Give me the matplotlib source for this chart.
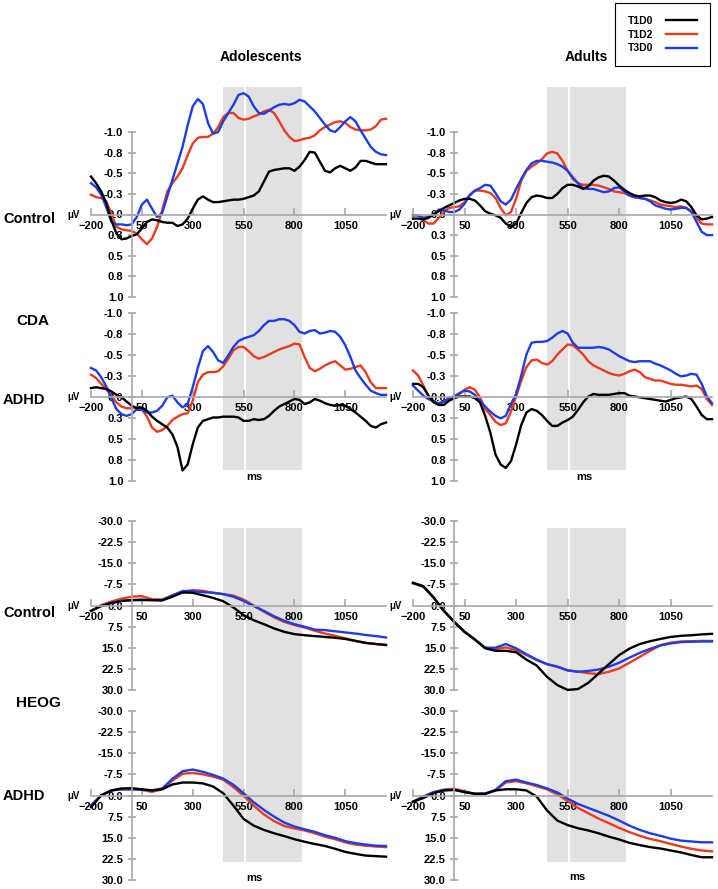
import matplotlib.pyplot as plt
import numpy as np

plt.rcParams['font.family'] = ['Liberation Sans', 'DejaVu Sans']
plt.rcParams['font.weight'] = 'bold'

# sample times (ms)
CDA_T = np.arange(-200, 1251, 25)
HEOG_T = np.arange(-200, 1251, 50)

# ---- CDA, adolescents, control (uV, negative up)
ADO_CTRL_CDA_T1D0 = [-0.46, -0.38, -0.28, -0.14, 0.07, 0.23, 0.30, 0.29, 0.26, 0.24,
                     0.17, 0.09, 0.06, 0.07, 0.09, 0.10, 0.10, 0.14, 0.12, 0.05,
                     -0.07, -0.18, -0.22, -0.18, -0.15, -0.15, -0.16, -0.17, -0.18, -0.18,
                     -0.19, -0.21, -0.23, -0.28, -0.40, -0.52, -0.54, -0.55, -0.56, -0.56,
                     -0.53, -0.58, -0.66, -0.76, -0.75, -0.64, -0.53, -0.51, -0.56, -0.59,
                     -0.56, -0.53, -0.57, -0.65, -0.65, -0.63, -0.61, -0.61, -0.61]
ADO_CTRL_CDA_T1D2 = [-0.24, -0.21, -0.20, -0.16, -0.01, 0.15, 0.18, 0.19, 0.20, 0.23,
                     0.30, 0.36, 0.29, 0.15, -0.05, -0.28, -0.38, -0.46, -0.56, -0.72,
                     -0.86, -0.93, -0.94, -0.94, -0.98, -1.06, -1.18, -1.23, -1.23, -1.17,
                     -1.15, -1.16, -1.19, -1.21, -1.25, -1.27, -1.23, -1.13, -1.02, -0.94,
                     -0.89, -0.90, -0.92, -0.93, -0.96, -1.02, -1.06, -1.09, -1.12, -1.13,
                     -1.11, -1.06, -1.03, -1.02, -1.02, -1.03, -1.07, -1.15, -1.16]
ADO_CTRL_CDA_T3D0 = [-0.38, -0.33, -0.24, -0.09, 0.09, 0.12, 0.12, 0.13, 0.12, 0.03,
                     -0.12, -0.18, -0.07, 0.03, -0.02, -0.22, -0.42, -0.62, -0.82, -1.08,
                     -1.31, -1.40, -1.34, -1.11, -0.98, -1.00, -1.13, -1.23, -1.33, -1.45,
                     -1.47, -1.43, -1.31, -1.23, -1.22, -1.26, -1.30, -1.33, -1.34, -1.33,
                     -1.35, -1.39, -1.37, -1.31, -1.25, -1.17, -1.09, -1.02, -1.00, -1.06,
                     -1.13, -1.18, -1.13, -1.02, -0.92, -0.82, -0.76, -0.73, -0.72]

# ---- CDA, adults, control
ADU_CTRL_CDA_T1D0 = [0.05, 0.05, 0.06, 0.04, 0.00, -0.04, -0.08, -0.11, -0.14, -0.17,
                     -0.19, -0.19, -0.17, -0.11, -0.04, -0.01, 0.01, 0.04, 0.11, 0.15,
                     0.11, -0.02, -0.14, -0.21, -0.23, -0.22, -0.20, -0.20, -0.25, -0.32,
                     -0.36, -0.36, -0.34, -0.31, -0.34, -0.41, -0.45, -0.47, -0.46, -0.41,
                     -0.35, -0.30, -0.26, -0.23, -0.22, -0.23, -0.23, -0.21, -0.17, -0.15,
                     -0.14, -0.15, -0.18, -0.16, -0.09, 0.01, 0.06, 0.05, 0.03]
ADU_CTRL_CDA_T1D2 = [0.01, 0.01, 0.07, 0.11, 0.11, 0.04, -0.03, -0.08, -0.09, -0.10,
                     -0.15, -0.24, -0.29, -0.29, -0.28, -0.26, -0.20, -0.08, 0.01, -0.03,
                     -0.19, -0.41, -0.53, -0.58, -0.62, -0.67, -0.74, -0.76, -0.74, -0.65,
                     -0.53, -0.43, -0.38, -0.36, -0.36, -0.36, -0.35, -0.33, -0.31, -0.28,
                     -0.27, -0.26, -0.23, -0.21, -0.20, -0.19, -0.17, -0.15, -0.12, -0.11,
                     -0.10, -0.09, -0.10, -0.08, -0.04, 0.04, 0.11, 0.12, 0.12]
ADU_CTRL_CDA_T3D0 = [0.01, 0.01, 0.04, 0.03, 0.00, -0.06, -0.05, -0.03, -0.03, -0.06,
                     -0.13, -0.23, -0.29, -0.32, -0.36, -0.35, -0.26, -0.16, -0.12, -0.18,
                     -0.31, -0.43, -0.54, -0.62, -0.65, -0.65, -0.64, -0.63, -0.61, -0.58,
                     -0.53, -0.45, -0.38, -0.32, -0.31, -0.31, -0.29, -0.27, -0.28, -0.32,
                     -0.33, -0.28, -0.23, -0.21, -0.20, -0.19, -0.16, -0.11, -0.09, -0.07,
                     -0.06, -0.07, -0.08, -0.08, -0.03, 0.09, 0.21, 0.25, 0.25]

# ---- CDA, adolescents, ADHD
ADO_ADHD_CDA_T1D0 = [-0.10, -0.11, -0.10, -0.09, -0.06, -0.02, 0.01, 0.06, 0.11, 0.14,
                     0.13, 0.17, 0.24, 0.29, 0.33, 0.37, 0.45, 0.60, 0.88, 0.81,
                     0.57, 0.37, 0.29, 0.27, 0.25, 0.25, 0.24, 0.24, 0.24, 0.25,
                     0.29, 0.29, 0.27, 0.28, 0.27, 0.23, 0.17, 0.12, 0.09, 0.06,
                     0.03, 0.04, 0.09, 0.07, 0.03, 0.05, 0.08, 0.10, 0.11, 0.10,
                     0.11, 0.15, 0.19, 0.24, 0.29, 0.35, 0.37, 0.33, 0.31]
ADO_ADHD_CDA_T1D2 = [-0.26, -0.22, -0.15, -0.09, -0.01, 0.07, 0.12, 0.14, 0.14, 0.13,
                     0.15, 0.24, 0.37, 0.42, 0.40, 0.35, 0.28, 0.24, 0.21, 0.20,
                     0.05, -0.17, -0.26, -0.29, -0.29, -0.30, -0.36, -0.45, -0.55, -0.59,
                     -0.59, -0.54, -0.48, -0.45, -0.47, -0.50, -0.53, -0.56, -0.58, -0.60,
                     -0.63, -0.62, -0.47, -0.34, -0.30, -0.33, -0.37, -0.40, -0.42, -0.37,
                     -0.32, -0.33, -0.35, -0.37, -0.29, -0.17, -0.10, -0.10, -0.10]
ADO_ADHD_CDA_T3D0 = [-0.34, -0.31, -0.23, -0.12, 0.02, 0.15, 0.21, 0.23, 0.21, 0.15,
                     0.16, 0.19, 0.19, 0.17, 0.11, 0.01, -0.01, 0.07, 0.13, 0.09,
                     -0.11, -0.34, -0.54, -0.60, -0.53, -0.43, -0.40, -0.49, -0.59, -0.66,
                     -0.69, -0.71, -0.73, -0.78, -0.85, -0.90, -0.90, -0.92, -0.92, -0.90,
                     -0.85, -0.77, -0.75, -0.78, -0.79, -0.75, -0.76, -0.78, -0.77, -0.71,
                     -0.61, -0.47, -0.31, -0.22, -0.14, -0.07, -0.04, -0.02, -0.02]

# ---- CDA, adults, ADHD
ADU_ADHD_CDA_T1D0 = [-0.15, -0.15, -0.11, -0.01, 0.07, 0.10, 0.10, 0.05, 0.02, 0.00,
                     0.00, 0.00, 0.02, 0.07, 0.23, 0.43, 0.69, 0.81, 0.85, 0.77,
                     0.57, 0.34, 0.19, 0.15, 0.17, 0.22, 0.29, 0.35, 0.35, 0.31,
                     0.28, 0.24, 0.16, 0.07, 0.00, -0.03, -0.02, -0.02, -0.02, -0.03,
                     -0.04, -0.04, -0.01, 0.00, 0.01, 0.02, 0.03, 0.04, 0.05, 0.06,
                     0.04, 0.02, 0.01, 0.00, 0.03, 0.12, 0.22, 0.27, 0.27]
ADU_ADHD_CDA_T1D2 = [-0.31, -0.25, -0.13, 0.00, 0.06, 0.09, 0.06, 0.02, 0.00, -0.03,
                     -0.08, -0.11, -0.08, 0.01, 0.15, 0.22, 0.30, 0.34, 0.32, 0.18,
                     0.00, -0.19, -0.35, -0.43, -0.44, -0.40, -0.38, -0.42, -0.50, -0.56,
                     -0.62, -0.61, -0.56, -0.50, -0.42, -0.37, -0.34, -0.31, -0.28, -0.26,
                     -0.25, -0.27, -0.30, -0.32, -0.29, -0.23, -0.21, -0.19, -0.19, -0.17,
                     -0.15, -0.14, -0.14, -0.13, -0.12, -0.13, -0.09, 0.03, 0.10]
ADU_ADHD_CDA_T3D0 = [-0.13, -0.07, -0.01, 0.03, 0.06, 0.08, 0.06, 0.02, 0.00, -0.04,
                     -0.07, -0.06, -0.02, 0.05, 0.12, 0.18, 0.23, 0.26, 0.23, 0.09,
                     -0.03, -0.25, -0.50, -0.64, -0.65, -0.65, -0.66, -0.70, -0.75, -0.78,
                     -0.75, -0.64, -0.58, -0.58, -0.58, -0.58, -0.59, -0.58, -0.56, -0.52,
                     -0.48, -0.45, -0.42, -0.41, -0.42, -0.42, -0.42, -0.39, -0.37, -0.34,
                     -0.31, -0.27, -0.24, -0.25, -0.27, -0.26, -0.15, 0.00, 0.08]

# ---- HEOG (uV)
ADO_CTRL_HEOG_T1D0 = [1.9, 0.2, -0.9, -1.6, -1.9, -1.9, -1.9, -1.8, -3.1, -4.6,
                      -4.5, -3.6, -2.7, -1.5, 0.7, 3.4, 5.2, 6.6, 8.1, 9.3,
                      10.1, 10.5, 10.8, 11.1, 11.4, 11.8, 12.5, 13.2, 13.6, 13.9]
ADO_CTRL_HEOG_T1D2 = [1.9, -0.1, -1.4, -2.4, -3.1, -3.3, -2.2, -2.1, -3.6, -4.9,
                      -5.4, -5.2, -4.5, -4.0, -3.5, -2.1, 0.0, 2.2, 4.2, 5.8,
                      6.9, 7.8, 8.9, 9.9, 10.7, 11.6, 12.5, 13.2, 13.6, 14.0]
ADO_CTRL_HEOG_T3D0 = [1.9, 0.2, -0.9, -1.6, -1.9, -2.1, -1.9, -1.9, -3.5, -5.1,
                      -5.1, -4.7, -4.5, -4.0, -3.1, -1.6, 0.2, 1.9, 3.8, 5.4,
                      6.6, 7.5, 8.5, 8.7, 9.1, 9.5, 9.9, 10.4, 10.8, 11.3]

ADU_CTRL_HEOG_T1D0 = [-8.0, -6.8, -2.8, 1.9, 5.8, 9.3, 12.0, 15.1, 16.0, 16.0,
                      16.5, 19.1, 21.2, 25.2, 28.1, 29.8, 29.5, 27.3, 24.0, 20.7,
                      17.5, 15.2, 13.6, 12.6, 11.8, 11.1, 10.7, 10.5, 10.2, 10.0]
ADU_CTRL_HEOG_T1D2 = [-7.8, -6.6, -2.8, 1.9, 5.8, 9.3, 12.0, 14.9, 15.4, 14.8,
                      15.8, 17.5, 19.3, 20.7, 21.6, 22.9, 23.3, 23.9, 24.2, 23.4,
                      22.2, 20.2, 18.1, 16.0, 14.0, 13.1, 12.7, 12.6, 12.5, 12.5]
ADU_CTRL_HEOG_T3D0 = [-8.0, -6.8, -2.8, 1.9, 5.8, 9.3, 12.0, 14.9, 14.9, 13.6,
                      15.1, 17.2, 19.1, 20.7, 21.6, 22.9, 23.4, 23.1, 22.6, 21.6,
                      20.2, 18.4, 16.7, 15.3, 14.1, 13.4, 12.9, 12.8, 12.7, 12.7]

ADO_ADHD_HEOG_T1D0 = [4.1, 0.0, -1.8, -2.5, -2.6, -2.2, -1.8, -2.2, -3.9, -4.6,
                      -4.6, -4.3, -3.2, -0.8, 3.6, 8.3, 10.7, 12.2, 13.4, 14.4,
                      15.5, 16.4, 17.2, 17.9, 18.9, 20.0, 20.7, 21.3, 21.5, 21.7]
ADO_ADHD_HEOG_T1D2 = [3.6, -0.1, -1.8, -2.2, -2.2, -2.0, -1.3, -2.2, -5.3, -7.7,
                      -8.0, -7.5, -6.7, -5.6, -3.0, 0.1, 3.6, 6.7, 9.1, 10.8,
                      11.7, 12.4, 13.4, 14.6, 15.5, 16.6, 17.4, 17.8, 18.1, 18.3]
ADO_ADHD_HEOG_T3D0 = [3.6, -0.1, -1.8, -2.2, -2.2, -2.0, -1.8, -2.5, -5.9, -8.6,
                      -9.2, -8.4, -7.3, -6.0, -3.8, -0.8, 2.4, 5.1, 7.5, 9.6,
                      11.0, 12.0, 12.9, 14.1, 15.0, 16.2, 16.9, 17.4, 17.8, 17.9]

ADU_ADHD_HEOG_T1D0 = [2.2, 0.9, -0.8, -1.8, -2.0, -1.2, -0.6, -0.6, -1.8, -2.2,
                      -2.2, -1.8, 0.4, 5.3, 8.9, 10.5, 11.6, 12.4, 13.4, 14.6,
                      15.6, 16.8, 17.6, 18.3, 18.8, 19.5, 20.2, 21.1, 21.9, 21.9]
ADU_ADHD_HEOG_T1D2 = [2.2, 0.4, -1.2, -2.1, -2.4, -1.5, -0.6, -0.6, -1.8, -4.6,
                      -5.1, -4.3, -3.3, -2.2, -0.4, 2.0, 4.4, 6.3, 8.2, 9.8,
                      11.5, 13.0, 14.3, 15.4, 16.2, 17.2, 18.1, 18.9, 19.5, 19.8]
ADU_ADHD_HEOG_T3D0 = [2.2, 0.4, -1.2, -1.9, -2.0, -1.3, -0.6, -0.7, -2.0, -5.1,
                      -5.6, -4.6, -3.7, -2.5, -1.1, 1.1, 3.0, 4.4, 5.8, 7.2,
                      8.9, 10.7, 12.2, 13.4, 14.3, 15.3, 16.0, 16.3, 16.6, 16.6]

CONDITIONS = ['T1D0', 'T1D2', 'T3D0']
X_TICKS = [-200, 50, 300, 550, 800, 1050]
CDA_TICKS = [-1.0, -0.75, -0.5, -0.25, 0.0, 0.25, 0.5, 0.75, 1.0]
CDA_TICKLABELS = ['-1.0', '-0.8', '-0.5', '-0.3', '0.0', '0.3', '0.5', '0.8', '1.0']
HEOG_TICKS = [-30.0, -22.5, -15.0, -7.5, 0.0, 7.5, 15.0, 22.5, 30.0]
HEOG_TICKLABELS = ['-30.0', '-22.5', '-15.0', '-7.5', '0.0', '7.5', '15.0', '22.5', '30.0']
WINDOW = (450, 835)   # shaded retention window (ms)
WINDOW_MARK = 555

# ---- layout (pixels)
W, H = 718, 889
COLORS = {'T1D0': 'black', 'T1D2': '#ec3a1e', 'T3D0': '#1d3de4'}
AXIS_GRAY = '#a8a8a8'
COL_X = {'left': (91, 386), 'right': (413, 712)}


def px_axes(fig, x0, x1, y_top, y_bot):
    return fig.add_axes([x0 / W, 1 - y_bot / H, (x1 - x0) / W, (y_bot - y_top) / H])


def shade(fig, col, y_top, y_bot):
    ax = px_axes(fig, *COL_X[col], y_top, y_bot)
    ax.set_xlim(-200, 1250)
    ax.axvspan(*WINDOW, color='#e1e1e1', lw=0)
    ax.axvline(WINDOW_MARK, color='white', lw=1.4)
    ax.axis('off')
    ax.set_zorder(-1)


def panel(fig, col, zero, ppu, vlim, ticks, ticklabels, series, times):
    v_top, v_bot = vlim
    x0, x1 = COL_X[col]
    ax = px_axes(fig, x0, x1, zero + v_top * ppu, zero + v_bot * ppu)
    ax.set_xlim(-200, 1250)
    ax.set_ylim(v_bot, v_top)
    ax.patch.set_visible(False)
    lines = {}
    for cond in ['T1D2', 'T3D0', 'T1D0']:
        lines[cond], = ax.plot(times, series[cond], color=COLORS[cond], lw=1.7, clip_on=False)
    for s in ['top', 'right']:
        ax.spines[s].set_visible(False)
    ax.spines['left'].set_position(('data', 0))
    ax.spines['left'].set_bounds(ticks[0], ticks[-1])
    ax.spines['bottom'].set_position(('data', 0))
    ax.spines['bottom'].set_bounds(-200, 1250)
    for s in ['left', 'bottom']:
        ax.spines[s].set_color(AXIS_GRAY)
        ax.spines[s].set_linewidth(1.2)
    ax.set_xticks(X_TICKS)
    ax.set_yticks(ticks)
    ax.set_yticklabels(ticklabels)
    ax.tick_params(axis='x', direction='in', length=5, width=1.2, color=AXIS_GRAY,
                   labelsize=8, pad=5)
    ax.tick_params(axis='y', direction='inout', length=6, width=1.2, color=AXIS_GRAY,
                   labelsize=8, pad=3)
    fig.text((x0 - 17) / W, 1 - (zero + 0.5) / H, '\u03bcV', fontsize=7, ha='center', va='center')
    return lines


def ftext(fig, x, y, s, **kw):
    fig.text(x / W, 1 - y / H, s, va='center', **kw)


fig = plt.figure(figsize=(W / 100, H / 100), dpi=100)

shade(fig, 'left', 87, 470)
shade(fig, 'right', 87, 470)
shade(fig, 'left', 528, 862)
shade(fig, 'right', 528, 862)

CDA_CTRL = dict(zero=214.5, ppu=82.5, vlim=(-1.65, 1.02), ticks=CDA_TICKS,
                ticklabels=CDA_TICKLABELS, times=CDA_T)
CDA_ADHD = dict(zero=396.5, ppu=84.0, vlim=(-1.05, 1.05), ticks=CDA_TICKS,
                ticklabels=CDA_TICKLABELS, times=CDA_T)
HEOG_CTRL = dict(zero=605.5, ppu=2.833, vlim=(-32, 32), ticks=HEOG_TICKS,
                 ticklabels=HEOG_TICKLABELS, times=HEOG_T)
HEOG_ADHD = dict(zero=795.5, ppu=2.82, vlim=(-32, 32), ticks=HEOG_TICKS,
                 ticklabels=HEOG_TICKLABELS, times=HEOG_T)

lines = panel(fig, 'left', series=dict(zip(CONDITIONS, [ADO_CTRL_CDA_T1D0, ADO_CTRL_CDA_T1D2, ADO_CTRL_CDA_T3D0])), **CDA_CTRL)
panel(fig, 'right', series=dict(zip(CONDITIONS, [ADU_CTRL_CDA_T1D0, ADU_CTRL_CDA_T1D2, ADU_CTRL_CDA_T3D0])), **CDA_CTRL)
panel(fig, 'left', series=dict(zip(CONDITIONS, [ADO_ADHD_CDA_T1D0, ADO_ADHD_CDA_T1D2, ADO_ADHD_CDA_T3D0])), **CDA_ADHD)
panel(fig, 'right', series=dict(zip(CONDITIONS, [ADU_ADHD_CDA_T1D0, ADU_ADHD_CDA_T1D2, ADU_ADHD_CDA_T3D0])), **CDA_ADHD)
panel(fig, 'left', series=dict(zip(CONDITIONS, [ADO_CTRL_HEOG_T1D0, ADO_CTRL_HEOG_T1D2, ADO_CTRL_HEOG_T3D0])), **HEOG_CTRL)
panel(fig, 'right', series=dict(zip(CONDITIONS, [ADU_CTRL_HEOG_T1D0, ADU_CTRL_HEOG_T1D2, ADU_CTRL_HEOG_T3D0])), **HEOG_CTRL)
panel(fig, 'left', series=dict(zip(CONDITIONS, [ADO_ADHD_HEOG_T1D0, ADO_ADHD_HEOG_T1D2, ADO_ADHD_HEOG_T3D0])), **HEOG_ADHD)
panel(fig, 'right', series=dict(zip(CONDITIONS, [ADU_ADHD_HEOG_T1D0, ADU_ADHD_HEOG_T1D2, ADU_ADHD_HEOG_T3D0])), **HEOG_ADHD)

# column titles and row labels
ftext(fig, 261, 57, 'Adolescents', fontsize=10, ha='center')
ftext(fig, 586, 57, 'Adults', fontsize=10, ha='center')
ftext(fig, 3, 219, 'Control', fontsize=10.5, ha='left')
ftext(fig, 16, 321, 'CDA', fontsize=11, ha='left')
ftext(fig, 3, 400, 'ADHD', fontsize=10.5, ha='left')
ftext(fig, 3, 613, 'Control', fontsize=10.5, ha='left')
ftext(fig, 16, 703, 'HEOG', fontsize=11, ha='left')
ftext(fig, 3, 796, 'ADHD', fontsize=10.5, ha='left')
for x, y in [(254, 477), (584, 477), (254, 878), (577, 877)]:
    ftext(fig, x, y, 'ms', fontsize=8, ha='center')

leg = fig.legend([lines[c] for c in CONDITIONS], CONDITIONS, loc='upper right',
                 bbox_to_anchor=(710 / W, 1 - 3 / H), borderaxespad=0, markerfirst=False,
                 prop={'weight': 'bold', 'size': 7.5}, frameon=True, fancybox=False,
                 edgecolor='black', framealpha=1, handlelength=3, handletextpad=1.2,
                 labelspacing=0.35, borderpad=1.25)
leg.get_frame().set_linewidth(0.8)

fig.savefig('out.png', dpi=100)
